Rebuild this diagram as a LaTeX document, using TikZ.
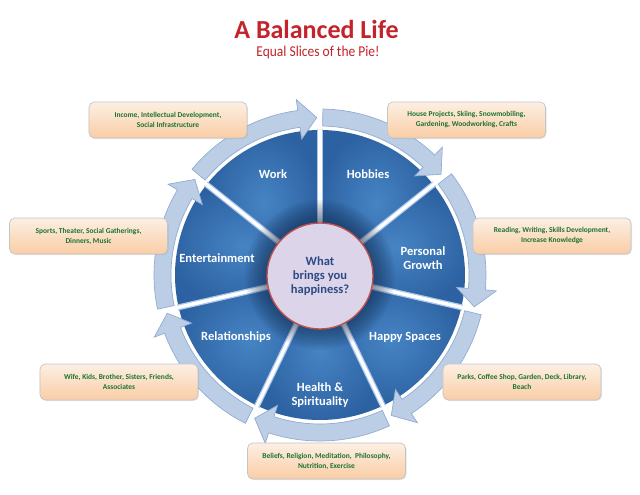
\documentclass[tikz,border=0pt]{standalone}
\usepackage{fontspec}
\setmainfont{Carlito}
\usetikzlibrary{shadows}
\definecolor{segL}{HTML}{4684C4}
\definecolor{segD}{HTML}{2D62A2}
\definecolor{ringF}{HTML}{BBCEE6}
\definecolor{ringD}{HTML}{8FAAD0}
\definecolor{gapL}{HTML}{A9C8EC}
\definecolor{haloC}{HTML}{102848}
\definecolor{ctrF}{HTML}{DCD4E8}
\definecolor{ctrD}{HTML}{C0504D}
\definecolor{ctrT}{HTML}{2B4A86}
\definecolor{boxT}{HTML}{FDEFE3}
\definecolor{boxB}{HTML}{F9CDA6}
\definecolor{boxD}{HTML}{C4C4C4}
\definecolor{boxTxt}{HTML}{1B732F}
\definecolor{titleR}{HTML}{C4232B}
\begin{document}
\begin{tikzpicture}[x=0.75pt,y=0.75pt,
  segshade/.style={inner color=segL, outer color=segD},
  gapwide/.style={line width=4.5pt, gapL},
  gapnarrow/.style={line width=2.6pt, white},
  ringarrow/.style={fill=ringF, draw=ringD, line width=0.5pt, line join=miter},
  seglabel/.style={text=white, font=\fontsize{9.4}{10.5}\selectfont\bfseries, align=center, inner sep=0pt},
  hub/.style={circle, minimum size=79.5pt, fill=ctrF, draw=ctrD, line width=1pt, text=ctrT,
    font=\fontsize{9.4}{10.2}\selectfont\bfseries, align=center, inner sep=0pt},
  infobox/.style={draw=boxD, line width=0.5pt, rounded corners=4pt, top color=boxT, bottom color=boxB,
    minimum width=118.5pt, minimum height=27pt, inner sep=1pt, align=center, text=boxTxt,
    font=\fontsize{5.6}{7.5}\selectfont\bfseries,
    drop shadow={opacity=0.2, shadow xshift=0.8pt, shadow yshift=-0.8pt}}]
\useasboundingbox (-320,-219) rectangle (320,275);
\fill[white] (-320,-219) rectangle (320,275);
% pie sectors
\foreach \k in {0,...,6}{
  \pgfmathsetmacro\a{90-\k*360/7}
  \pgfmathsetmacro\b{\a-360/7}
  \shade[segshade] (0,0) -- (\a:145) arc[start angle=\a, end angle=\b, radius=145] -- cycle;
}
% gaps between sectors
\foreach \k in {0,...,6}{
  \pgfmathsetmacro\a{90-\k*360/7}
  \draw[gapwide] (\a:40) -- (\a:146);
}
\foreach \k in {0,...,6}{
  \pgfmathsetmacro\a{90-\k*360/7}
  \draw[gapnarrow] (\a:40) -- (\a:150);
}
% halo around the hub
\foreach \r in {53,55,...,75}{
  \fill[haloC, opacity=0.06] (0,0) circle[radius=\r];
}
% ring arrows
\foreach \k in {0,...,6}{
  \pgfmathsetmacro\s{90-\k*360/7-1}
  \pgfmathsetmacro\t{90-(\k+1)*360/7+1.2}
  \pgfmathsetmacro\h{\t+6.5}
  \filldraw[ringarrow] (\s:149) -- (\s:166) arc[start angle=\s, end angle=\h, radius=166]
    -- (\h:177) -- (\t:157.5) -- (\h:137) -- (\h:149)
    arc[start angle=\h, end angle=\s, radius=149] -- cycle;
}
% hub
\node[hub] (centre) at (0,-1) {What\\brings you\\happiness?};
% segment labels
\node[seglabel] (work) at (-47,101) {Work};
\node[seglabel] (hobbies) at (48,101) {Hobbies};
\node[seglabel] (growth) at (103,17) {Personal\\Growth};
\node[seglabel] (ent) at (-103,17) {Entertainment};
\node[seglabel] (rel) at (-84,-62) {Relationships};
\node[seglabel] (happy) at (85,-62) {Happy Spaces};
\node[seglabel] (health) at (0,-120) {Health \&\\Spirituality};
% info boxes
\node[infobox] (boxwork) at (-152,155) {Income, Intellectual Development,\\Social Infrastructure};
\node[infobox] (boxhob) at (146.5,155) {House Projects, Skiing, Snowmobiling,\\Gardening, Woodworking, Crafts};
\node[infobox] (boxent) at (-231.5,39) {Sports, Theater, Social Gatherings,\\Dinners, Music};
\node[infobox] (boxpg) at (232,39) {Reading, Writing, Skills Development,\\Increase Knowledge};
\node[infobox] (boxrel) at (-201,-107) {Wife, Kids, Brother, Sisters, Friends,\\Associates};
\node[infobox] (boxhs) at (202,-107) {Parks, Coffee Shop, Garden, Deck, Library,\\Beach};
\node[infobox] (boxhl) at (6.5,-186) {Beliefs, Religion, Meditation,~ Philosophy,\\Nutrition, Exercise};
% title
\node[text=titleR, font=\fontsize{19.5}{20}\selectfont\bfseries, inner sep=0pt] (title) at (-3.5,246)
  {\scalebox{1.0}[1]{A Balanced Life}};
\node[text=titleR, font=\fontsize{11.25}{12}\selectfont, inner sep=0pt] (subtitle) at (-2,223)
  {\scalebox{0.9}[1]{Equal Slices of the Pie!}};
\end{tikzpicture}
\end{document}
